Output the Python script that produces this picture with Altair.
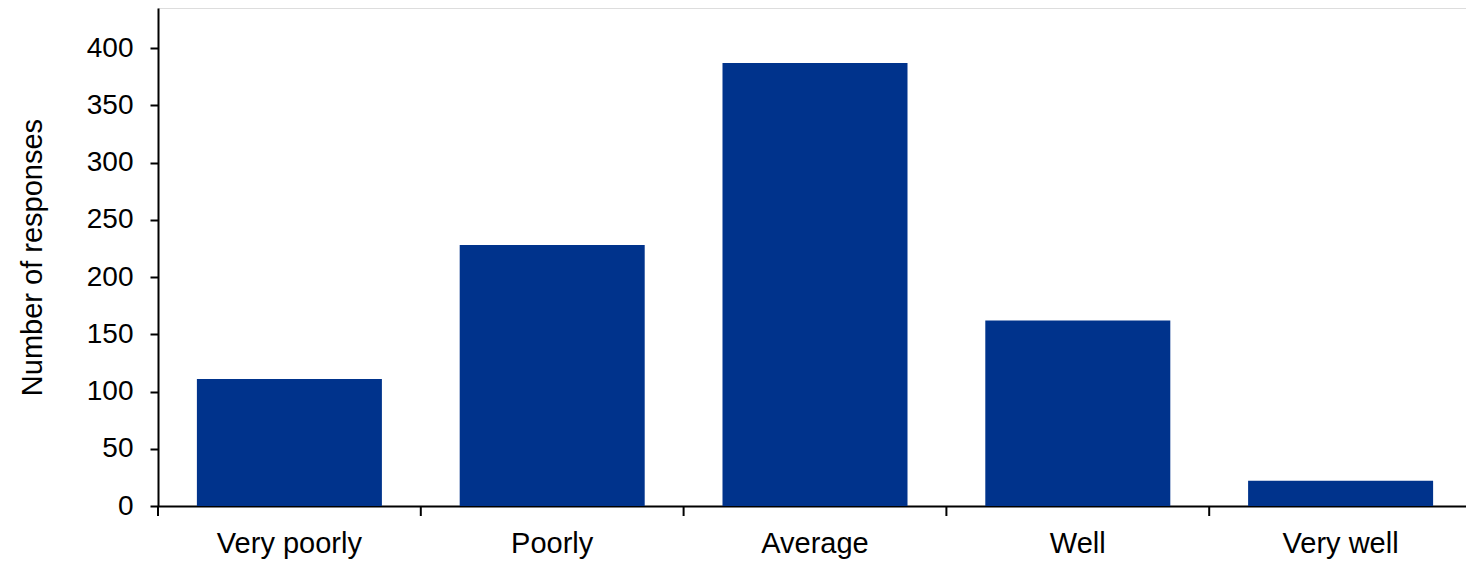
import altair as alt
import pandas as pd

categories = ["Very poorly", "Poorly", "Average", "Well", "Very well"]
responses = [111, 228, 387, 162, 22]
y_ticks = [0, 50, 100, 150, 200, 250, 300, 350, 400]

df = pd.DataFrame({"category": categories, "responses": responses})
last_df = pd.DataFrame({"category": categories[-1:]})

FONT = "Liberation Sans"
BAR = "#00338C"
W, H = 1314, 498
P_IN = 0.296
STEP = W / len(categories)
GAP = P_IN * STEP / 2  # pixels from a bar edge to its category boundary

xscale = alt.Scale(domain=categories, paddingInner=P_IN, paddingOuter=P_IN / 2)

bars = alt.Chart(df).mark_bar(color=BAR).encode(
    x=alt.X("category:N", scale=xscale, sort=categories,
            axis=alt.Axis(title=None, ticks=False, grid=False, labelAngle=0, labelFont=FONT,
                          labelFontSize=29, labelColor="black", labelPadding=23,
                          domainColor="black", domainWidth=2)),
    y=alt.Y("responses:Q", scale=alt.Scale(domain=[0, 435], nice=False, zero=True),
            axis=alt.Axis(title="Number of responses", values=y_ticks, grid=False,
                          labelFont=FONT, labelFontSize=28, labelColor="black",
                          labelPadding=17, tickSize=8, tickWidth=2, tickColor="black",
                          domainColor="black", domainWidth=2,
                          titleFont=FONT, titleFontSize=29, titleFontWeight="normal",
                          titleColor="black", titleX=-111)),
)

ticks_start = alt.Chart(df).mark_rule(color="black", strokeWidth=2, xOffset=-GAP).encode(
    x=alt.X("category:N", scale=xscale, sort=categories, bandPosition=0),
    y=alt.value(H),
    y2=alt.value(H + 10),
)

ticks_end = alt.Chart(last_df).mark_rule(color="black", strokeWidth=2, xOffset=GAP).encode(
    x=alt.X("category:N", scale=xscale, sort=categories, bandPosition=1),
    y=alt.value(H),
    y2=alt.value(H + 10),
)

chart = alt.layer(bars, ticks_start, ticks_end).properties(
    width=W, height=H,
    autosize=alt.AutoSizeParams(type="none"),
    padding={"left": 150, "top": 0, "right": -6, "bottom": 54},
).configure_view(strokeOpacity=0, strokeWidth=0).configure(background="white")

chart.save("out.html", embed_options={"renderer": "svg", "actions": False})
